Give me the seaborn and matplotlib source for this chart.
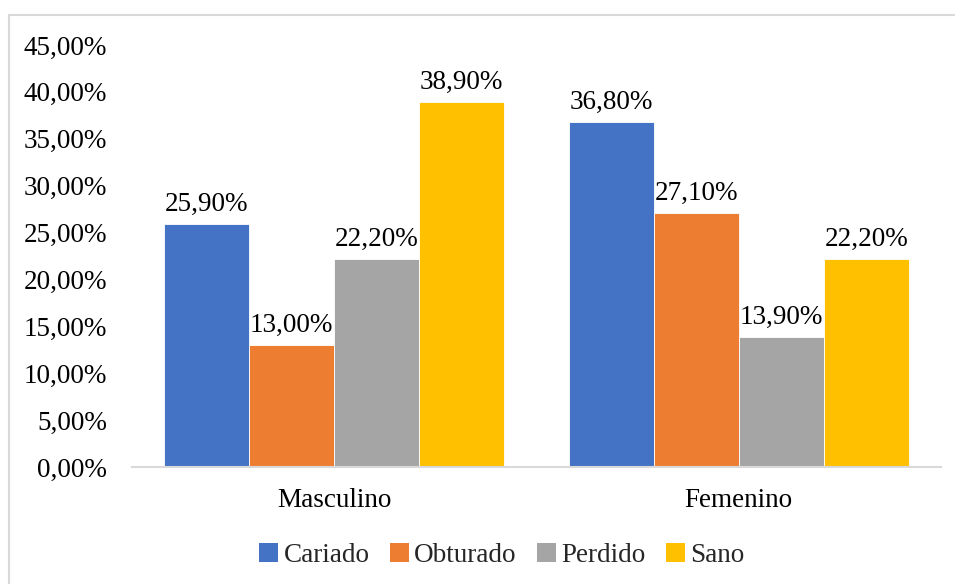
import matplotlib
matplotlib.use("Agg")
import matplotlib.pyplot as plt
from matplotlib.patches import Rectangle
import seaborn as sns
import pandas as pd

# Data: share of teeth by condition, per sex
sexes = ["Masculino", "Femenino"]
conditions = ["Cariado", "Obturado", "Perdido", "Sano"]
masculino = [0.259, 0.130, 0.222, 0.389]
femenino = [0.368, 0.271, 0.139, 0.222]
y_ticks = [0.0, 0.05, 0.10, 0.15, 0.20, 0.25, 0.30, 0.35, 0.40, 0.45]
palette = ["#4472C4", "#ED7D31", "#A5A5A5", "#FFC000"]

rows = []
for sex, vals in zip(sexes, [masculino, femenino]):
    for cond, v in zip(conditions, vals):
        rows.append({"Sexo": sex, "Condición": cond, "Valor": v})
df = pd.DataFrame(rows)

sns.set_theme(style="white")
plt.rcParams["font.family"] = ["Liberation Serif", "DejaVu Serif"]
FS = 19.5

fig = plt.figure(figsize=(9.55, 5.84), dpi=100)
ax = fig.add_axes([132 / 955, 1 - 467 / 584, (941 - 132) / 955, (467 - 45) / 584])

sns.barplot(data=df, x="Sexo", y="Valor", hue="Condición", order=sexes,
            hue_order=conditions, palette=palette, width=0.84,
            edgecolor="white", linewidth=0.6, saturation=1, ax=ax)


def pct(v):
    return f"{v * 100:.2f}".replace(".", ",") + "%"


for container, cond in zip(ax.containers, conditions):
    vals = df[df["Condición"] == cond].set_index("Sexo").loc[sexes, "Valor"]
    ax.bar_label(container, labels=[pct(v) for v in vals], padding=5,
                 fontsize=FS, color="#000000")

ax.set_ylim(0, 0.45)
ax.set_xlim(-0.5, 1.5)
ax.set_yticks(y_ticks)
ax.set_yticklabels([pct(v) for v in y_ticks])
ax.tick_params(axis="y", length=0, pad=18, labelsize=FS, labelcolor="#000000")
ax.tick_params(axis="x", length=0, pad=15, labelsize=FS, labelcolor="#000000")
ax.set_xlabel("")
ax.set_ylabel("")
ax.grid(False)
for side in ["left", "right", "top"]:
    ax.spines[side].set_visible(False)
ax.spines["bottom"].set_color("#d9d9d9")
ax.spines["bottom"].set_linewidth(1.5)

ax.legend_.remove()
handles = [Rectangle((0, 0), 1, 1, facecolor=c, edgecolor="none") for c in palette]
fig.legend(handles, conditions, loc="center", bbox_to_anchor=(502 / 955, 1 - 555 / 584),
           ncol=4, frameon=False, fontsize=FS, handlelength=0.7, handleheight=0.7,
           handletextpad=0.2, columnspacing=0.75, borderaxespad=0)

# Chart area border
fig.add_artist(Rectangle((9 / 955, -0.05), 1.1, 1 - 15 / 584 + 0.05,
                         transform=fig.transFigure, fill=False,
                         edgecolor="#d9d9d9", linewidth=1.5))

fig.savefig("out.png", dpi=100)
